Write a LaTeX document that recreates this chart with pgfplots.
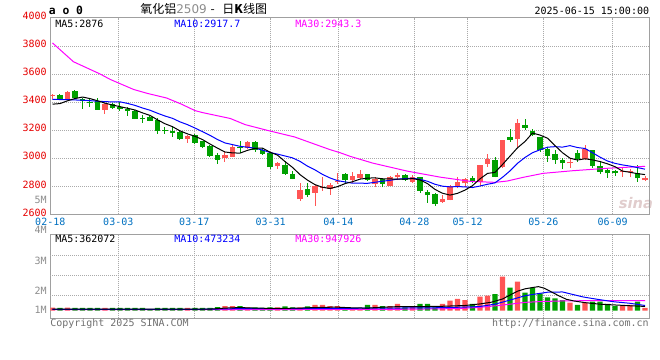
\documentclass[border=0pt]{standalone}
\usepackage{fontspec}
\setmainfont{DejaVu Sans}
\setsansfont{DejaVu Sans}
\setmonofont{DejaVu Sans Mono}
\newfontfamily\cjk{Noto Sans CJK SC}
\newfontfamily\mono{DejaVu Sans Mono}
\usepackage{pgfplots}
\usepackage{pgfplotstable}
\pgfplotsset{compat=1.18}
\definecolor{upred}{RGB}{255,85,85}
\definecolor{dngreen}{RGB}{0,160,0}
\definecolor{lblred}{RGB}{230,0,0}
\definecolor{lblblue}{RGB}{0,112,192}
\definecolor{framegray}{RGB}{160,160,160}
\definecolor{gridgray}{RGB}{170,170,170}
\definecolor{txtgray}{RGB}{140,140,140}
\definecolor{maten}{RGB}{0,0,255}
\definecolor{mathirty}{RGB}{255,0,255}
\definecolor{wmark}{RGB}{225,205,205}

\pgfplotstableread{
i o h l c v
0 3442 3460 3426 3449 0.23
2 3424 3481 3420 3471 0.23
7 3345 3393 3319 3388 0.21
18 3140 3169 3112 3162 0.21
23 2999 3049 2977 3025 0.36
24 3013 3099 3008 3080 0.36
26 3073 3125 3068 3118 0.26
30 2942 2977 2923 2966 0.26
33 2708 2827 2699 2775 0.26
35 2756 2808 2661 2806 0.44
36 2790 2865 2770 2797 0.44
37 2780 2827 2742 2810 0.36
38 2830 2894 2818 2840 0.36
40 2845 2905 2826 2874 0.15
41 2860 2917 2850 2888 0.15
43 2817 2864 2793 2850 0.44
45 2802 2874 2800 2869 0.36
46 2864 2898 2845 2881 0.52
48 2833 2881 2821 2869 0.36
52 2690 2738 2683 2710 0.52
53 2702 2810 2700 2802 0.77
54 2793 2864 2786 2831 0.90
55 2821 2857 2793 2852 0.82
57 2833 2952 2802 2952 1.08
58 2960 3031 2940 2995 1.15
60 2940 3131 2929 3131 2.62
62 3136 3281 3083 3250 2.23
69 2964 2993 2933 2974 0.62
71 2993 3095 2988 3064 0.62
76 2902 2929 2869 2909 0.36
77 2900 2924 2864 2907 0.44
79 2845 2874 2840 2860 0.21
}\uptab

\pgfplotstableread{
i o h l c v
1 3452 3455 3415 3424 0.21
3 3481 3488 3424 3429 0.21
4 3424 3429 3355 3412 0.21
5 3402 3421 3369 3393 0.21
6 3407 3429 3345 3345 0.21
8 3388 3393 3350 3360 0.21
9 3364 3398 3340 3355 0.21
10 3355 3369 3305 3336 0.21
11 3340 3345 3279 3283 0.21
12 3290 3310 3255 3283 0.21
13 3298 3305 3264 3269 0.08
14 3274 3288 3174 3198 0.21
15 3200 3221 3174 3193 0.21
16 3198 3226 3155 3179 0.21
17 3190 3198 3133 3136 0.21
19 3167 3176 3100 3112 0.21
20 3120 3126 3073 3080 0.21
21 3089 3095 3008 3020 0.21
22 3025 3037 2961 2989 0.28
25 3078 3125 3037 3071 0.36
27 3118 3125 3046 3061 0.26
28 3061 3073 3025 3032 0.21
29 3037 3046 2925 2937 0.26
31 2954 2983 2882 2889 0.34
32 2889 2911 2850 2854 0.26
34 2782 2827 2723 2739 0.34
39 2888 2898 2826 2848 0.15
42 2888 2890 2840 2845 0.44
44 2852 2862 2793 2814 0.36
47 2881 2888 2840 2845 0.26
49 2864 2869 2755 2769 0.52
50 2760 2774 2683 2736 0.52
51 2745 2755 2660 2674 0.26
56 2857 2874 2821 2833 0.52
59 2988 3012 2864 2869 1.28
61 3150 3207 3119 3131 1.77
63 3238 3281 3202 3219 1.38
64 3195 3207 3162 3169 1.77
65 3150 3155 3048 3060 1.34
66 3064 3083 2976 3019 1.03
67 3031 3060 2960 2988 0.95
68 2988 3000 2924 2964 0.82
70 3036 3060 2976 2995 0.44
72 3060 3062 2933 2948 0.69
73 2948 2976 2888 2905 0.69
74 2917 2933 2862 2893 0.52
75 2912 2917 2874 2893 0.36
78 2898 2952 2833 2857 0.69
}\dntab

\pgfplotsset{
  sinaaxis/.style={
    scale only axis, width=449.4pt,
    xmin=-0.293, xmax=79.6,
    axis line style={framegray, line width=0.75pt},
    xtick={-0.293,8.773,18.907,29.093,38.107,48.24,55.36,65.44,74.693},
    xmajorgrids=true,
    grid style={gridgray, line width=0.75pt, dash pattern=on 0.75pt off 0.75pt},
    major tick length=0pt,
    tick label style={font=\mono\fontsize{7.5}{8}\selectfont, inner sep=0pt},
    yticklabel style={anchor=east, xshift=-2.5pt},
    clip=true,
  },
  wick/.style={draw=none, mark=none, forget plot,
    error bars/.cd, y dir=plus, y explicit, error mark=none,
    error bar style={draw=#1, line width=0.75pt}},
  body/.style={draw=none, mark=none, forget plot,
    error bars/.cd, y dir=plus, y explicit, error mark=none,
    error bar style={draw=#1, line width=4.1pt}},
}

\begin{document}
\begin{tikzpicture}
\useasboundingbox (0pt,0pt) rectangle (495pt,270pt);

% watermark
\node[font=\sffamily\bfseries\itshape\fontsize{11}{11}\selectfont, text=wmark] at (477pt,118pt) {sina};

% ---------------- price panel ----------------
\begin{axis}[sinaaxis,
  at={(37.725pt,109.125pt)}, anchor=south west, height=147.4pt,
  ymin=2600, ymax=4000,
  ytick={2600,2800,3000,3200,3400,3600,3800,4000},
  yticklabels={2600,2800,3000,3200,3400,3600,3800,4000},
  yticklabel style={text=lblred, yshift=1.5pt},
  ymajorgrids=true,
  xticklabels={02-18,03-03,03-17,03-31,04-14,04-28,05-12,05-26,06-09},
  xticklabel style={text=lblblue, anchor=base, yshift=-8.25pt},
]
\addplot[wick=upred] table[x=i, y=l, y error expr=\thisrow{h}-\thisrow{l}] {\uptab};
\addplot[wick=dngreen] table[x=i, y=l, y error expr=\thisrow{h}-\thisrow{l}] {\dntab};
\addplot[body=upred] table[x=i, y=o, y error expr=\thisrow{c}-\thisrow{o}] {\uptab};
\addplot[body=dngreen] table[x=i, y=c, y error expr=\thisrow{o}-\thisrow{c}] {\dntab};

% MA30
\addplot[mathirty, line width=0.75pt] coordinates {
(0,3822) (2.8,3688) (6.3,3602) (7.7,3562) (10.8,3491) (12.7,3462) (15.2,3430)
(17.2,3386) (19,3340) (20,3326) (23.7,3284) (25.7,3240) (28.6,3200) (32.3,3152)
(37,3062) (38.3,3041) (39.7,3014) (42.7,2966) (47.3,2909) (51.7,2866) (55.7,2836)
(59,2829) (60.6,2838) (62.7,2864) (65.4,2893) (69.4,2912) (73.9,2929) (79,2943)};
% MA10
\addplot[maten, line width=0.75pt] coordinates {
(0,3420) (1,3419) (2,3418) (3,3416) (4,3414) (5,3411) (6,3407) (7,3404) (8,3402)
(9,3402.4) (10,3391.3) (11,3377.2) (12,3358.7) (13,3342.7) (14,3321.3) (15,3301.6)
(16,3285.0) (17,3259.8) (18,3240.0) (19,3215.7) (20,3190.1) (21,3163.8) (22,3134.1)
(23,3109.7) (24,3097.9) (25,3085.6) (26,3079.5) (27,3072.0) (28,3059.0) (29,3041.5)
(30,3030.1) (31,3017.0) (32,3003.5) (33,2978.5) (34,2944.4) (35,2917.7) (36,2885.5)
(37,2860.4) (38,2841.2) (39,2832.3) (40,2823.1) (41,2823.0) (42,2822.1) (43,2829.6)
(44,2837.1) (45,2843.4) (46,2851.9) (47,2855.4) (48,2858.3) (49,2850.4) (50,2836.6)
(51,2815.2) (52,2801.7) (53,2796.9) (54,2798.6) (55,2796.9) (56,2792.1) (57,2802.8)
(58,2815.4) (59,2825.4) (60,2864.9) (61,2910.6) (62,2964.6) (63,3006.3) (64,3040.1)
(65,3060.9) (66,3079.5) (67,3083.1) (68,3080.0) (69,3090.5) (70,3076.9) (71,3070.2)
(72,3040.0) (73,3008.6) (74,2981.0) (75,2964.3) (76,2953.1) (77,2944.8) (78,2934.1)
(79,2922.7)};
% MA5
\addplot[black, line width=0.75pt] coordinates {
(0,3386) (1,3390) (2,3410) (3,3426) (4,3436.6) (5,3425.8) (6,3410.0) (7,3393.4)
(8,3379.6) (9,3368.2) (10,3356.8) (11,3344.4) (12,3324.0) (13,3305.8) (14,3274.4)
(15,3246.4) (16,3225.6) (17,3195.6) (18,3174.2) (19,3157.0) (20,3133.8) (21,3102.0)
(22,3072.6) (23,3045.2) (24,3038.8) (25,3037.4) (26,3057.0) (27,3071.4) (28,3072.8)
(29,3044.2) (30,3022.8) (31,2977.0) (32,2935.6) (33,2884.2) (34,2844.6) (35,2812.6)
(36,2794.0) (37,2785.2) (38,2798.2) (39,2820.0) (40,2833.6) (41,2852.0) (42,2859.0)
(43,2861.0) (44,2854.2) (45,2853.2) (46,2851.8) (47,2851.8) (48,2855.6) (49,2846.6)
(50,2820.0) (51,2778.6) (52,2751.6) (53,2738.2) (54,2750.6) (55,2773.8) (56,2805.6)
(57,2854.0) (58,2892.6) (59,2900.2) (60,2956.0) (61,3015.6) (62,3075.2) (63,3120.0)
(64,3180.0) (65,3165.8) (66,3143.4) (67,3091.0) (68,3040.0) (69,3001.0) (70,2988.0)
(71,2997.0) (72,2989.0) (73,2977.2) (74,2961.0) (75,2940.6) (76,2909.2) (77,2900.6)
(78,2891.0) (79,2884.4)};
\end{axis}

% ---------------- volume panel ----------------
\begin{axis}[sinaaxis,
  at={(37.725pt,31.125pt)}, anchor=south west, height=62.875pt,
  ymin=-0.6, ymax=5.846,
  ytick={0.05,1.55,3.86}, yticklabels={1M,2M,3M},
  yticklabel style={text=txtgray},
  ymajorgrids=false,
  extra y ticks={1.18,2.72,4.26}, extra y tick labels={},
  extra y tick style={ymajorgrids=true},
  xticklabels={},
]
\addplot[ybar, bar width=3.8pt, bar shift=0pt, fill=upred, draw=none, forget plot] table[x=i, y=v] {\uptab};
\addplot[ybar, bar width=3.8pt, bar shift=0pt, fill=dngreen, draw=none, forget plot] table[x=i, y=v] {\dntab};
\addplot[mathirty, line width=0.75pt] coordinates {
(0,0.08) (30,0.09) (45,0.1) (54,0.16) (57,0.26) (59.5,0.4) (61.3,0.52) (63,0.64)
(65,0.7) (68,0.75) (71,0.77) (79,0.78)};
\addplot[maten, line width=0.75pt] coordinates {
(0,0.1) (20,0.11) (24,0.15) (30,0.16) (38,0.18) (45,0.2) (52,0.23) (56.8,0.31)
(59,0.5) (61.2,0.85) (63,1.15) (64.6,1.3) (66,1.42) (68,1.44) (69,1.3) (70.8,1.05)
(72.6,0.88) (74.8,0.69) (77,0.57) (79,0.4)};
\addplot[black, line width=0.75pt] coordinates {
(0,0.12) (10,0.12) (21,0.12) (23,0.2) (25,0.24) (27,0.2) (30,0.17) (33,0.2) (36,0.26)
(38,0.27) (40,0.22) (42,0.2) (44,0.27) (46,0.31) (49,0.31) (52,0.34) (55,0.4)
(57,0.52) (58.5,0.65) (60,0.9) (61,1.2) (62,1.5) (63,1.68) (64,1.78) (64.8,1.85)
(65.6,1.72) (66.5,1.45) (67.5,1.15) (68.5,0.88) (69.5,0.75) (71,0.62) (73,0.5)
(75,0.44) (77,0.38) (79,0.33)};
\end{axis}

% ---------------- texts ----------------
\begin{scope}[every node/.style={inner sep=0pt, font=\mono\fontsize{7.5}{8}\selectfont}]
\node[anchor=base west, font=\mono\bfseries\fontsize{8.5}{9}\selectfont] at (36.5pt,258.75pt) {a o 0};
\node[anchor=base west, font=\fontsize{9}{10}\selectfont] at (105pt,259.5pt)
  {{\cjk 氧化铝}{\color{txtgray}2509} {\cjk -} \ {\cjk 日\textbf{K}线图}};
\node[anchor=base east] at (487pt,258.75pt) {2025-06-15 15:00:00};
\node[anchor=base west, text=black] at (41.25pt,249.5pt) {MA5:2876};
\node[anchor=base west, text=maten] at (130.5pt,249.5pt) {MA10:2917.7};
\node[anchor=base west, text=mathirty] at (221.25pt,249.5pt) {MA30:2943.3};
\node[anchor=base west, text=black] at (41.25pt,88.3pt) {MA5:362072};
\node[anchor=base west, text=maten] at (130.5pt,88.3pt) {MA10:473234};
\node[anchor=base west, text=mathirty] at (221.25pt,88.3pt) {MA30:947926};
\node[anchor=east, text=txtgray] at (35.2pt,97.5pt) {4M};
\node[anchor=east, text=txtgray] at (35.2pt,120pt) {5M};
\node[anchor=base west, text=txtgray!80!black] at (37.5pt,25pt) {Copyright 2025 SINA.COM};
\node[anchor=base east, text=txtgray!80!black] at (486.75pt,25pt) {http://finance.sina.com.cn};
\end{scope}
\end{tikzpicture}
\end{document}
